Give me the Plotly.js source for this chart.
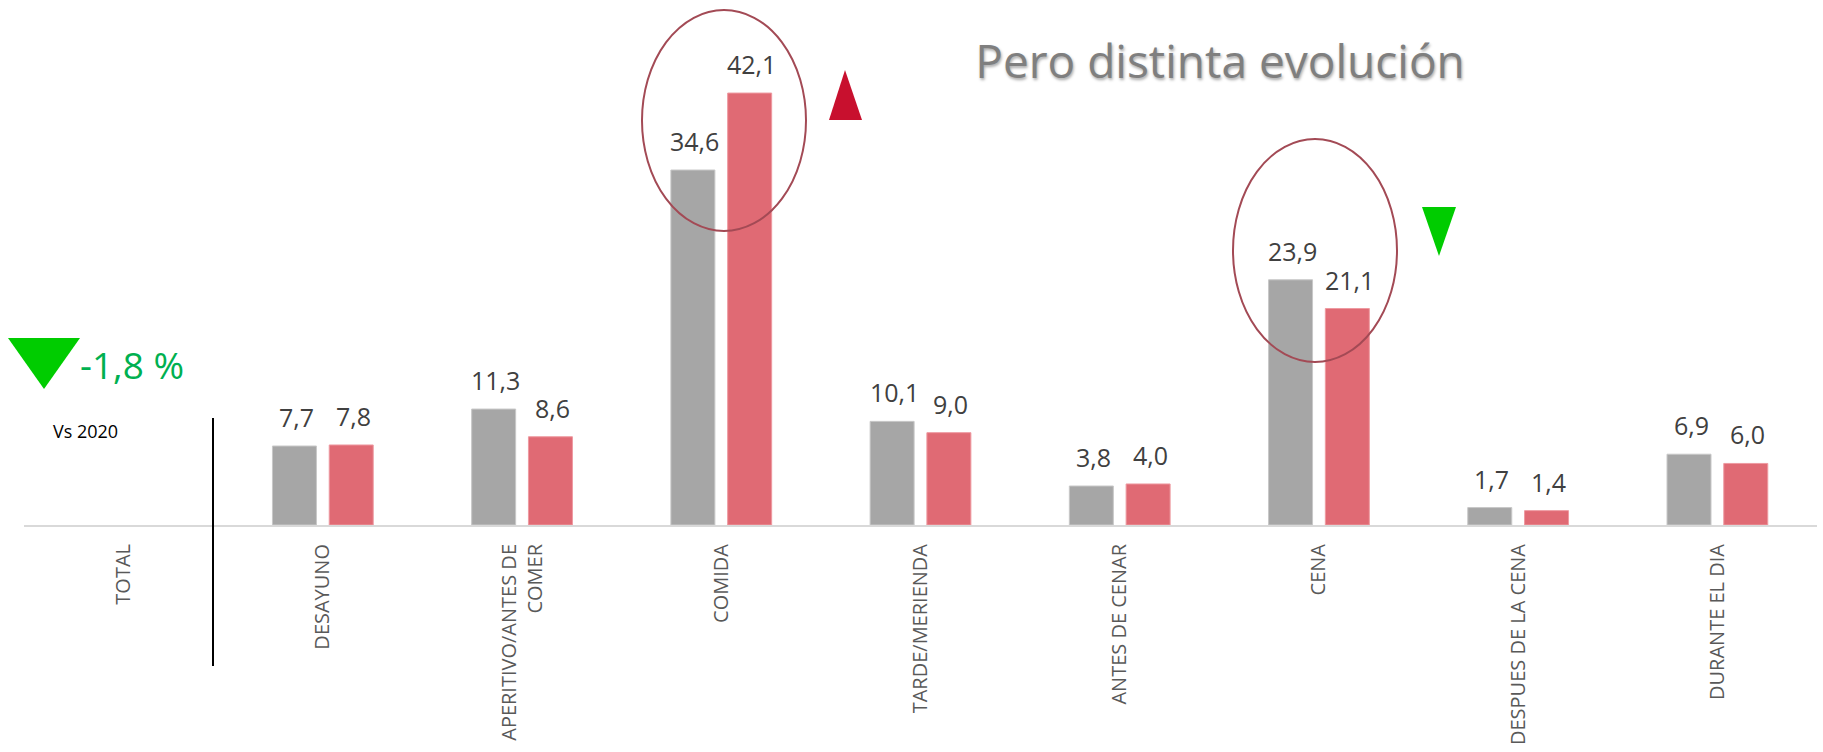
<!DOCTYPE html>
<html>
<head>
<meta charset="utf-8">
<script src="https://cdn.plot.ly/plotly-3.0.1.min.js"></script>
<style>html,body{margin:0;padding:0;background:#fff;}#chart{width:1823px;height:752px;}</style>
</head>
<body>
<div id="chart"></div>
<script>
// ---- data ----
const categories = ['TOTAL','DESAYUNO','APERITIVO/ANTES DE<br>COMER','COMIDA','TARDE/MERIENDA','ANTES DE CENAR','CENA','DESPUES DE LA CENA','DURANTE EL DIA'];
const values2020 = [null, 7.7, 11.3, 34.6, 10.1, 3.8, 23.9, 1.7, 6.9];
const values2021 = [null, 7.8, 8.6, 42.1, 9.0, 4.0, 21.1, 1.4, 6.0];
const titleText = 'Pero distinta evolución';
const totalChangeText = '-1,8 %';
const vsText = 'Vs 2020';

// ---- layout geometry ----
const W = 1823, H = 752;
const M = {l: 24, r: 6, t: 0, b: 227};
const plotW = W - M.l - M.r, plotH = H - M.t - M.b;
const px = x => (x - M.l) / plotW;          // pixel -> paper x
const py = y => (M.t + plotH - y) / plotH;  // pixel -> paper y
const FONT = 'Open Sans, Lato, sans-serif';
const fmt = v => v.toFixed(1).replace('.', ',');

const traceGray = {type: 'bar', name: '2020', x: categories, y: values2020,
  marker: {color: '#a6a6a6', line: {color: '#c8c8c8', width: 1}}, hoverinfo: 'none'};
const traceRed = {type: 'bar', name: '2021', x: categories, y: values2021,
  marker: {color: '#e06a74', line: {color: '#ee9aa1', width: 1}}, hoverinfo: 'none'};

const annotations = [];
const slot = plotW / categories.length * (1 - 0.43) / 2;
[[values2020, -slot / 2 + 2], [values2021, slot / 2 + 2]].forEach(([vals, dx]) => {
  vals.forEach((v, i) => {
    if (v === null) return;
    annotations.push({x: categories[i], y: v, xref: 'x', yref: 'y', text: fmt(v),
      showarrow: false, xanchor: 'center', yanchor: 'bottom', xshift: dx, yshift: 10,
      font: {family: FONT, size: 25, color: '#404040'}});
  });
});
annotations.push({xref: 'paper', yref: 'paper', x: px(78), y: py(364), xanchor: 'left', yanchor: 'middle',
  text: totalChangeText, showarrow: false, font: {family: FONT, size: 37, color: '#00b050'}});
annotations.push({xref: 'paper', yref: 'paper', x: px(51), y: py(431), xanchor: 'left', yanchor: 'middle',
  text: vsText, showarrow: false, font: {family: FONT, size: 18, color: '#000000'}});

const tri = (pts, color) => ({type: 'path', xref: 'paper', yref: 'paper', layer: 'above',
  path: 'M' + pts.map(p => px(p[0]) + ',' + py(p[1])).join(' L') + ' Z',
  fillcolor: color, line: {width: 0}});
const ell = (x0, y0, x1, y1) => ({type: 'circle', xref: 'paper', yref: 'paper', layer: 'above',
  x0: px(x0), x1: px(x1), y0: py(y1), y1: py(y0), line: {color: '#a34a55', width: 2}});

const shapes = [
  ell(642, 10, 806, 231),
  ell(1233, 139, 1397, 362),
  tri([[8, 338], [80, 338], [44, 389]], '#00cc00'),
  tri([[829, 120], [862, 120], [845, 70]], '#c8102e'),
  tri([[1422, 207], [1456, 207], [1439, 256]], '#00cc00'),
  {type: 'line', xref: 'paper', yref: 'paper', x0: px(213), x1: px(213), y0: py(418), y1: py(666),
   line: {color: '#000000', width: 2}}
];

const layout = {
  width: W, height: H, margin: M,
  paper_bgcolor: '#ffffff', plot_bgcolor: '#ffffff',
  showlegend: false, barmode: 'group', bargap: 0.43, bargroupgap: 0.225,
  title: {text: titleText, x: 1220 / W, xanchor: 'center', xref: 'container',
          y: 1 - 62 / H, yanchor: 'middle', yref: 'container',
          font: {family: FONT, size: 46, color: '#7f7f7f', shadow: '1px 2px 3px rgba(0,0,0,0.35)'}},
  xaxis: {type: 'category', range: [-0.5, categories.length - 0.5], showline: true, linecolor: '#d9d9d9', linewidth: 2,
          ticks: 'outside', ticklen: 9, tickcolor: 'rgba(0,0,0,0)', tickangle: -90,
          tickfont: {family: FONT, size: 20, color: '#595959'}, showgrid: false, zeroline: false, fixedrange: true},
  yaxis: {visible: false, range: [0, plotH / 10.26], showgrid: false, zeroline: false, fixedrange: true},
  annotations: annotations, shapes: shapes
};

Plotly.newPlot('chart', [traceGray, traceRed], layout, {staticPlot: true, displayModeBar: false});
</script>
</body>
</html>
